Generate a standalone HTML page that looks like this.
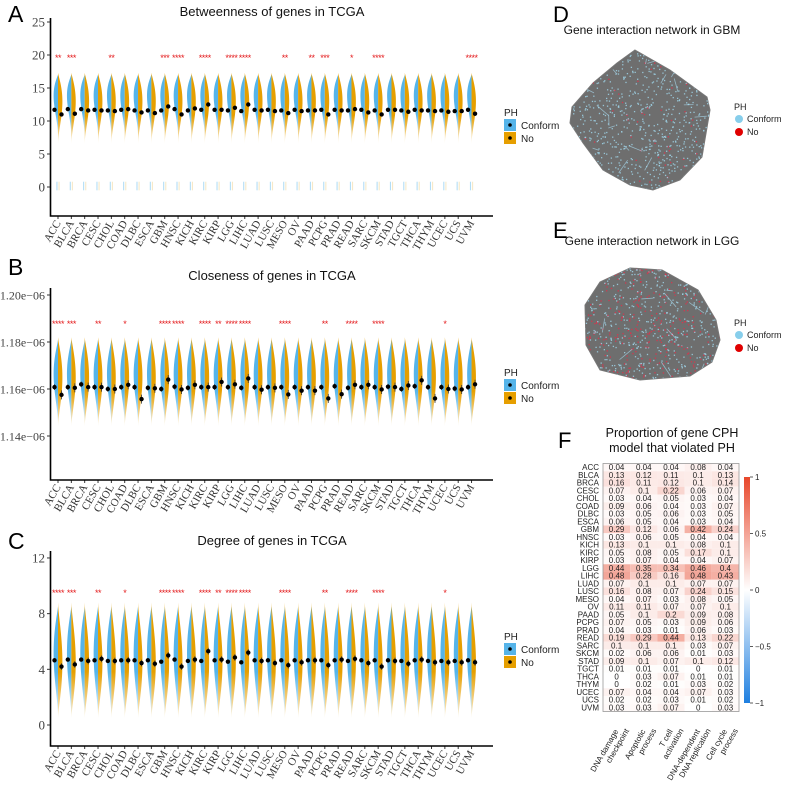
<!DOCTYPE html>
<html><head><meta charset="utf-8"><style>
html,body{margin:0;padding:0;background:#fff;}
svg{display:block;font-family:"Liberation Sans",sans-serif;}
.serif{font-family:"Liberation Serif",serif;}
</style></head><body>
<svg id="fig" width="787" height="786" viewBox="0 0 787 786" xmlns="http://www.w3.org/2000/svg">
<defs>
<linearGradient id="blueFade" x1="0" y1="0" x2="0" y2="1"><stop offset="0" stop-color="#56B4E9"/><stop offset="0.6" stop-color="#56B4E9"/><stop offset="1" stop-color="#56B4E9" stop-opacity="0.15"/></linearGradient>
<linearGradient id="orangeFade" x1="0" y1="0" x2="0" y2="1"><stop offset="0" stop-color="#E69F00"/><stop offset="0.6" stop-color="#E69F00"/><stop offset="1" stop-color="#E69F00" stop-opacity="0.15"/></linearGradient>
<linearGradient id="cbar" x1="0" y1="0" x2="0" y2="1"><stop offset="0" stop-color="#E8472B"/><stop offset="0.5" stop-color="#ffffff"/><stop offset="1" stop-color="#1E7FE0"/></linearGradient>
</defs>
<g id="panels"></g>
</svg>
<script>
const cats=["ACC","BLCA","BRCA","CESC","CHOL","COAD","DLBC","ESCA","GBM","HNSC","KICH","KIRC","KIRP","LGG","LIHC","LUAD","LUSC","MESO","OV","PAAD","PCPG","PRAD","READ","SARC","SKCM","STAD","TGCT","THCA","THYM","UCEC","UCS","UVM"];
const betConform=[11.7,11.8,11.8,11.7,11.6,11.7,11.6,11.6,11.6,11.8,11.6,11.7,11.7,11.6,11.5,11.7,11.7,11.6,11.7,11.6,11.7,11.7,11.6,11.7,11.6,11.7,11.6,11.7,11.6,11.6,11.5,11.7];
const betNo=[11.0,11.1,11.6,11.6,11.5,11.8,11.3,11.2,12.2,11.0,11.9,12.5,11.7,12.0,12.5,11.6,11.5,11.2,11.5,11.6,11.0,11.6,11.8,11.3,11.0,11.7,11.4,11.6,11.5,11.4,11.5,11.1];
const betStars=["**","***","","","**","","","","***","****","","****","","****","****","","","**","","**","***","","*","","****","","","","","","","****"];
const cloConform=[1.1608,1.1608,1.1620,1.1608,1.1600,1.1608,1.1608,1.1605,1.1600,1.1610,1.1605,1.1608,1.1608,1.1608,1.1605,1.1608,1.1608,1.1608,1.1608,1.1608,1.1608,1.1612,1.1605,1.1608,1.1608,1.1610,1.1600,1.1612,1.1608,1.1608,1.1602,1.1608];
const cloNo=[1.1575,1.1605,1.1608,1.1608,1.1600,1.1618,1.1557,1.1603,1.1640,1.1598,1.1618,1.1608,1.1630,1.1620,1.1645,1.1597,1.1605,1.1577,1.1593,1.1593,1.1560,1.1578,1.1618,1.1618,1.1598,1.1608,1.1615,1.1637,1.1560,1.1600,1.1598,1.1620];
const cloStars=["****","***","","**","","*","","","****","****","","****","**","****","****","","","****","","","**","","****","","****","","","","","*","",""];
const degConform=[4.65,4.7,4.7,4.65,4.6,4.65,4.65,4.65,4.55,4.7,4.6,4.6,4.65,4.55,4.5,4.65,4.65,4.65,4.65,4.65,4.65,4.65,4.6,4.65,4.65,4.65,4.6,4.65,4.6,4.6,4.6,4.65];
const degNo=[4.2,4.35,4.6,4.75,4.6,4.65,4.45,4.4,5.0,4.2,4.7,5.3,4.7,4.85,5.2,4.6,4.45,4.3,4.5,4.65,4.3,4.7,4.75,4.45,4.2,4.6,4.4,4.7,4.5,4.5,4.5,4.5];
const degStars=cloStars.slice();
const betTicks=[0,5,10,15,20,25];
const cloTicks=[1.14,1.16,1.18,1.20];
const cloTickLabels=["1.14e\u221206","1.16e\u221206","1.18e\u221206","1.20e\u221206"];
const degTicks=[0,4,8,12];
const hmRows=cats;
const hmCols=[["DNA damage","checkpoint"],["Apoptotic","process"],["T cell","activation"],["DNA-dependent","DNA replication"],["Cell cycle","process"]];
const hmValues=[
[.04,.04,.04,.08,.04],[.13,.12,.11,.1,.13],[.16,.11,.12,.1,.14],[.07,.1,.22,.06,.07],[.03,.04,.05,.03,.04],
[.09,.06,.04,.03,.07],[.03,.05,.06,.03,.05],[.06,.05,.04,.03,.04],[.29,.12,.06,.42,.24],[.03,.06,.05,.04,.04],
[.13,.1,.1,.08,.1],[.05,.08,.05,.17,.1],[.03,.07,.04,.04,.07],[.44,.35,.34,.46,.4],[.48,.28,.16,.48,.43],
[.07,.1,.1,.07,.07],[.16,.08,.07,.24,.15],[.04,.07,.03,.08,.05],[.11,.11,.07,.07,.1],[.05,.1,.2,.09,.08],
[.07,.05,.03,.09,.06],[.04,.03,.01,.06,.03],[.19,.29,.44,.13,.22],[.1,.1,.1,.03,.07],[.02,.06,.06,.01,.03],
[.09,.1,.07,.1,.12],[.01,.01,.01,0,.01],[0,.03,.07,.01,.01],[0,.02,.01,.03,.02],[.07,.04,.04,.07,.03],
[.02,.02,.03,.01,.02],[.03,.03,.07,0,.03]];
const cbTicks=[1,0.5,0,-0.5,-1];

const NS="http://www.w3.org/2000/svg";
const root=document.getElementById('panels');
function mk(tag,attrs,parent,text){const e=document.createElementNS(NS,tag);for(const k in attrs)e.setAttribute(k,attrs[k]);if(text!==undefined)e.textContent=text;(parent||root).appendChild(e);return e;}

function violinPanel(o){
  const g=mk('g',{});
  
  
  const y=v=>o.y0-(v-o.v0)*o.k;
  const cx=i=>58+i*13.34;
  const L=mk('text',{x:8,y:o.letterY,'font-size':23},g,o.letter);
  
  const T=mk('text',{x:272,y:o.titleY,'font-size':13,'text-anchor':'middle',fill:'#111'},g,o.title);
  
  cats.forEach((c,i)=>{
    const x=cx(i);
    [[o.blue,-1,'url(#blueFade)','violin-conform'],[o.orange,1,'url(#orangeFade)','violin-no']].forEach(([s,dir,fill,nm])=>{
      let d='M'+x+','+y(s.hi);const N=30;
      for(let j=0;j<=N;j++){const t=1-j/N;const v=s.lo+(s.hi-s.lo)*t;
        const w=Math.pow(t,s.a)*Math.pow(1-t,s.b)/s.norm*4.4;d+=' L'+(x+dir*w).toFixed(2)+','+y(v).toFixed(2);}
      d+=' L'+x+','+y(s.lo)+' Z';
      const p=mk('path',{d:d,fill:fill},g);
      
    });
    if(o.zero){
      const z1=mk('rect',{x:x-1.6,y:y(0.8),width:1.1,height:y(-0.5)-y(0.8),fill:'#56B4E9',opacity:0.45},g);
      
      const z2=mk('rect',{x:x+0.5,y:y(0.8),width:1.1,height:y(-0.5)-y(0.8),fill:'#E6C060',opacity:0.35},g);
      
    }
    const e1=mk('line',{x1:x-3.5,x2:x-3.5,y1:y(o.conf[i]-o.err),y2:y(o.conf[i]+o.err),stroke:'#333','stroke-width':0.8},g);
    
    const e2=mk('line',{x1:x+3.5,x2:x+3.5,y1:y(o.no[i]-o.err*1.6),y2:y(o.no[i]+o.err*1.6),stroke:'#333','stroke-width':0.8},g);
    
    const m1=mk('circle',{cx:x-3.5,cy:y(o.conf[i]),r:2.2,fill:'#000'},g);
    
    const m2=mk('circle',{cx:x+3.5,cy:y(o.no[i]),r:2.2,fill:'#000'},g);
    
    if(o.stars[i]){const st=mk('text',{x:x,y:o.starY,'font-size':9,'text-anchor':'middle',fill:'#E41A1C','letter-spacing':'-0.5'},g,o.stars[i]);
      }
    const lb=mk('text',{class:'serif',x:0,y:0,'font-size':11,'text-anchor':'end',fill:'#333',transform:`translate(${x+3},${o.bottom+7}) rotate(-60)`},g,c);
    
    mk('line',{x1:x,x2:x,y1:o.bottom,y2:o.bottom+3,stroke:'#333'},g);
  });
  const ax=mk('path',{d:`M50.5,${o.top} V${o.bottom} H493`,fill:'none',stroke:'#000','stroke-width':1.6},g);
  
  o.ticks.forEach((t,i)=>{
    mk('line',{x1:47,x2:50,y1:y(t),y2:y(t),stroke:'#333'},g);
    const tl=mk('text',{class:'serif',x:45,y:y(t)+4.5,'font-size':o.tickSize||13,'text-anchor':'end',fill:'#444'},g,o.tickLabels?o.tickLabels[i]:String(t));
    
  });
  const lg=mk('g',{},g);
  mk('text',{x:504,y:o.legY,'font-size':10,fill:'#222'},lg,'PH');
  [['#56B4E9','Conform'],['#E69F00','No']].forEach(([c,l],j)=>{
    const yy=o.legY+3+j*13;
    const r=mk('rect',{x:504,y:yy,width:12,height:12,fill:c},lg);
    
    mk('circle',{cx:510,cy:yy+6,r:1.8,fill:'#000'},lg);
    mk('text',{x:521,y:yy+10,'font-size':10,fill:'#222'},lg,l);
  });
}
function shape(lo,hi,a,b){const tp=a/(a+b);return{lo,hi,a,b,norm:Math.pow(tp,a)*Math.pow(1-tp,b)};}
violinPanel({name:'panel-a-betweenness',letter:'A',letterY:22,title:'Betweenness of genes in TCGA',titleY:16,
 v0:0,y0:187,k:6.6,top:18,bottom:216,ticks:betTicks,conf:betConform,no:betNo,stars:betStars,starY:61,err:0.15,zero:true,
 blue:shape(7.5,17,2.2,1.1),orange:shape(6.5,17.3,1.8,1.2),legY:116});
violinPanel({name:'panel-b-closeness',letter:'B',letterY:275,title:'Closeness of genes in TCGA',titleY:280,
 v0:1.16,y0:389,k:2350,top:288,bottom:480,ticks:cloTicks,tickLabels:cloTickLabels,tickSize:12,conf:cloConform,no:cloNo,stars:cloStars,starY:327,err:0.0012,
 blue:shape(1.145,1.181,1.9,1.3),orange:shape(1.144,1.182,1.6,1.3),legY:376});
violinPanel({name:'panel-c-degree',letter:'C',letterY:549,title:'Degree of genes in TCGA',titleY:545,
 v0:0,y0:725,k:13.92,top:551,bottom:746,ticks:degTicks,conf:degConform,no:degNo,stars:degStars,starY:596,err:0.15,
 blue:shape(0.7,8.5,1.6,1.2),orange:shape(0.5,8.8,1.4,1.5),legY:640});

let seed=7;function rnd(){seed=(seed*16807)%2147483647;return seed/2147483647;}
function network(o){
  const g=mk('g',{});
  const L=mk('text',{x:553,y:o.letterY,'font-size':22},g,o.letter);
  const T=mk('text',{x:652,y:o.titleY,'font-size':12,'text-anchor':'middle',fill:'#111'},g,o.title);
  const cid='clip'+o.letter;
  const cp=mk('clipPath',{id:cid},g);mk('polygon',{points:o.poly},cp);
  const pg=mk('polygon',{points:o.poly,fill:'#6E6E6E',stroke:'#777','stroke-width':1},g);
  
  const dots=mk('g',{'clip-path':`url(#${cid})`},g);
  for(let i=0;i<o.n;i++){const x=o.bx[0]+rnd()*(o.bx[1]-o.bx[0]),y=o.by[0]+rnd()*(o.by[1]-o.by[0]);
    const red=rnd()<o.red;mk('rect',{x:x,y:y,width:1.3,height:1.3,fill:red?'#E0304A':'#9FD3E8',opacity:0.85},dots);}
  for(let i=0;i<o.lines;i++){const x=o.bx[0]+rnd()*(o.bx[1]-o.bx[0]),y=o.by[0]+rnd()*(o.by[1]-o.by[0]);
    mk('line',{x1:x,y1:y,x2:x+(rnd()-0.5)*30,y2:y+(rnd()-0.5)*30,stroke:'#A8D8EC','stroke-width':0.8,opacity:0.7},dots);}
  const lg=mk('g',{},g);
  mk('text',{x:734,y:o.legY,'font-size':9,fill:'#222'},lg,'PH');
  [['#87CEEB','Conform'],['#E00000','No']].forEach(([c,l],j)=>{
    const yy=o.legY+12+j*13;
    const ci=mk('circle',{cx:739,cy:yy-3,r:4,fill:c},lg);
    mk('text',{x:747,y:yy,'font-size':9,fill:'#222'},lg,l);
  });
}
network({name:'panel-d-network-gbm',letter:'D',letterY:22,title:'Gene interaction network in GBM',titleY:34,
 poly:'635,50 670,70 707,97 710,110 702,157 680,180 653,190 630,185 603,170 583,143 570,123 572,107 593,83 617,63',
 bx:[568,712],by:[48,192],n:900,red:0.06,lines:30,legY:110});
network({name:'panel-e-network-lgg',letter:'E',letterY:238,title:'Gene interaction network in LGG',titleY:245,
 poly:'630,268 662,270 698,290 716,320 720,340 712,362 690,376 640,380 600,370 586,345 585,305 600,282',
 bx:[583,722],by:[266,382],n:900,red:0.4,lines:15,legY:326});

(function(){
  const g=mk('g',{});
  const L=mk('text',{x:558,y:448,'font-size':22},g,'F');
  const T=mk('text',{x:672,y:437,'font-size':12.5,'text-anchor':'middle',fill:'#111'},g);
  mk('tspan',{x:672,dy:0},T,'Proportion of gene CPH');mk('tspan',{x:672,dy:15},T,'model that violated PH');
  const x0=603,cw=27.2,y0=463.5,rh=7.75;
  function col(v){const t=Math.max(0,Math.min(1,v));const r=255+(232-255)*t,gg=255+(71-255)*t,b=255+(43-255)*t;return `rgb(${r|0},${gg|0},${b|0})`;}
  hmRows.forEach((r,i)=>{
    const rl=mk('text',{x:599,y:y0+i*rh+6.5,'font-size':8,'text-anchor':'end',fill:'#222'},g,r);
    
    hmValues[i].forEach((v,j)=>{
      const c=mk('rect',{x:x0+j*cw,y:y0+i*rh,width:cw,height:rh,fill:col(v)},g);
      
      mk('text',{x:x0+j*cw+cw/2,y:y0+i*rh+6.5,'font-size':8,'text-anchor':'middle',fill:'#222'},g,String(v));
    });
  });
  mk('rect',{x:x0,y:y0,width:cw*5,height:rh*hmRows.length,fill:'none',stroke:'#999','stroke-width':0.8},g);
  hmCols.forEach((c,j)=>{
    const cx=x0+j*cw+cw/2;
    const t=mk('text',{'font-size':8,'text-anchor':'end',fill:'#222',transform:`translate(${cx+2},${y0+rh*33+12}) rotate(-60)`},g);
    
    mk('tspan',{x:0,dy:0},t,c[0]);mk('tspan',{x:6,dy:9},t,c[1]);
  });
  const cb=mk('rect',{x:744,y:477,width:6,height:226,fill:'url(#cbar)'},g);
  
  cbTicks.forEach(t=>{const yy=590-t*113;
    mk('line',{x1:750,x2:753,y1:yy,y2:yy,stroke:'#333','stroke-width':0.8},g);
    const tl=mk('text',{x:755,y:yy+3,'font-size':8,fill:'#222'},g,String(t).replace('-','\u2212'));
    });
})();
</script>
</body></html>
